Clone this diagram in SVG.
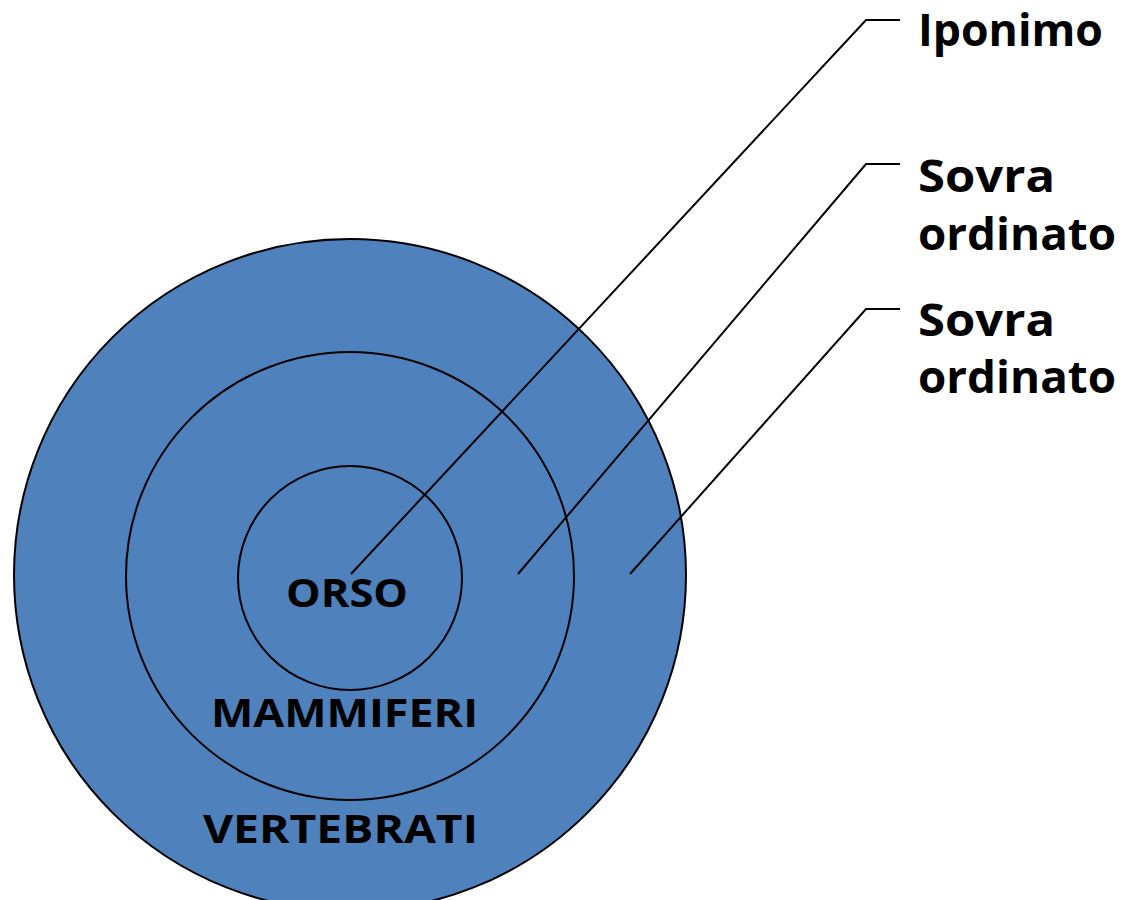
<svg xmlns="http://www.w3.org/2000/svg" width="1133" height="900" viewBox="0 0 1133 900">
<style>
.c{fill:#4F81BD;stroke:#000;stroke-width:2}
.ln{fill:none;stroke:#000;stroke-width:2}
.t{font-family:"Comic Sans MS","Open Sans","DejaVu Sans",sans-serif;font-weight:bold;fill:#000}
.lab{font-size:44px}
.in{font-size:40px}
</style>
<rect width="1133" height="900" fill="#fff"/>
<g id="vertebrati">
<circle class="c" cx="350" cy="575" r="336"/>
<text class="t in" x="203" y="843" textLength="275" lengthAdjust="spacingAndGlyphs">VERTEBRATI</text>
</g>
<g id="mammiferi">
<circle class="c" cx="350" cy="576" r="224"/>
<text class="t in" x="211" y="727" textLength="267" lengthAdjust="spacingAndGlyphs">MAMMIFERI</text>
</g>
<g id="orso">
<circle class="c" cx="350" cy="578" r="112"/>
<text class="t in" x="286" y="607" textLength="122" lengthAdjust="spacingAndGlyphs">ORSO</text>
</g>
<g id="connectors">
<polyline class="ln" points="351,574 866,20 900,20"/>
<polyline class="ln" points="518,574 866,164 900,164"/>
<polyline class="ln" points="630,574 866,309 900,309"/>
</g>
<g id="label-iponimo">
<text class="t lab" x="918" y="46" textLength="185" lengthAdjust="spacingAndGlyphs">Iponimo</text>
</g>
<g id="label-sovra1">
<text class="t lab" x="918" y="192" textLength="137" lengthAdjust="spacingAndGlyphs">Sovra</text>
<text class="t lab" x="918" y="250" textLength="198" lengthAdjust="spacingAndGlyphs">ordinato</text>
</g>
<g id="label-sovra2">
<text class="t lab" x="918" y="336" textLength="137" lengthAdjust="spacingAndGlyphs">Sovra</text>
<text class="t lab" x="918" y="393" textLength="198" lengthAdjust="spacingAndGlyphs">ordinato</text>
</g>
</svg>
